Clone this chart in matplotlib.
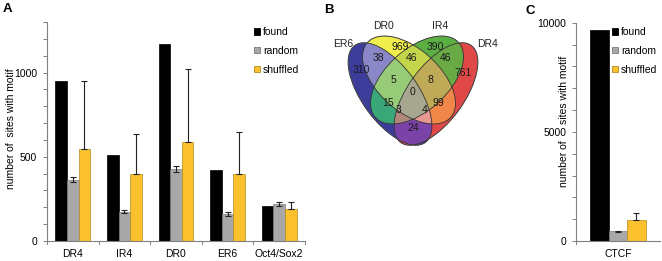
import numpy as np
import matplotlib
matplotlib.use("Agg")
import matplotlib.pyplot as plt
from matplotlib.patches import Ellipse, Patch
from matplotlib.ticker import FixedLocator, FuncFormatter

plt.rcParams['font.family'] = ['Liberation Sans', 'DejaVu Sans']

# ---- panel A data
motifs = ['DR4', 'IR4', 'DR0', 'ER6', 'Oct4/Sox2']
found = [950, 510, 1170, 420, 205]
random_ = [365, 175, 425, 160, 220]
random_err = [15, 10, 18, 10, 10]
shuffled = [545, 395, 590, 400, 190]
shuffled_err = [405, 240, 430, 250, 40]

# ---- panel C data
ctcf_found = [9650]
ctcf_random = [450]
ctcf_random_err = [20]
ctcf_shuffled = [950]
ctcf_shuffled_err = [350]

# ---- panel B (Venn) data: region -> count, sets ER6, DR0, IR4, DR4
venn_sets = ['ER6', 'DR0', 'IR4', 'DR4']
venn_counts = {
    'A': 310, 'B': 969, 'C': 390, 'D': 761,
    'AB': 38, 'BC': 46, 'CD': 46, 'AC': 15, 'BD': 99, 'AD': 24,
    'ABC': 5, 'BCD': 8, 'ACD': 3, 'ABD': 4, 'ABCD': 0,
}

W, H = 662, 261
fig = plt.figure(figsize=(W / 100, H / 100), dpi=100)

c_found, c_rand, c_shuf = '#000000', '#a8a8a8', '#fbc02d'
e_rand, e_shuf = '#7a7a7a', '#b08a20'


def fx(px):
    return px / W


def fy(py):
    return 1 - py / H


def style_axes(ax, ymax, step, labstep):
    for s in ['top', 'right']:
        ax.spines[s].set_visible(False)
    for s in ['left', 'bottom']:
        ax.spines[s].set_color('#808080')
        ax.spines[s].set_linewidth(0.8)
    ax.set_ylim(0, ymax)
    ax.yaxis.set_major_locator(FixedLocator(np.arange(0, ymax + 1, step)))
    ax.yaxis.set_major_formatter(FuncFormatter(
        lambda v, p: '%d' % v if v % labstep == 0 else ''))
    ax.tick_params(axis='y', length=3, width=0.7, color='#808080',
                   labelsize=7.5, pad=4)
    ax.tick_params(axis='x', length=0, labelsize=7.5, pad=6)


def bar_legend(ax, x, y):
    handles = [Patch(facecolor=c_found, edgecolor='#000000', lw=0.6),
               Patch(facecolor=c_rand, edgecolor=e_rand, lw=0.6),
               Patch(facecolor=c_shuf, edgecolor=e_shuf, lw=0.6)]
    ax.legend(handles, ['found', 'random', 'shuffled'], loc='upper left',
              bbox_to_anchor=(fx(x), fy(y)), bbox_transform=fig.transFigure,
              frameon=False, fontsize=7.5, handlelength=0.6, handleheight=0.6,
              handletextpad=0.25, labelspacing=0.85, borderpad=0, borderaxespad=0)


# ---------------- Panel A
axA = fig.add_axes([fx(47), fy(241), fx(305) - fx(47), fy(22) - fy(241)])
x = np.arange(len(motifs))
bw = 0.225
axA.bar(x - bw, found, bw, color=c_found, edgecolor='#000000', lw=0.5)
axA.bar(x, random_, bw, color=c_rand, edgecolor=e_rand, lw=0.5,
        yerr=[random_err, random_err], capsize=2.2,
        error_kw=dict(elinewidth=0.8, capthick=0.8, ecolor='#222222'))
axA.bar(x + bw, shuffled, bw, color=c_shuf, edgecolor=e_shuf, lw=0.5,
        yerr=[np.zeros(len(shuffled)), shuffled_err], capsize=2.2,
        error_kw=dict(elinewidth=0.8, capthick=0.8, ecolor='#222222'))
axA.set_xlim(-0.5, len(motifs) - 0.5)
axA.set_xticks(x)
axA.set_xticklabels(motifs)
for b in np.arange(-0.5, len(motifs), 1.0):
    axA.plot([b, b], [0, -0.012], transform=axA.get_xaxis_transform(),
             color='#808080', lw=0.7, clip_on=False)
style_axes(axA, 1300, 100, 500)
axA.set_ylabel('number of  sites with motif', fontsize=7.5)
axA.yaxis.set_label_coords(-0.122, 0.515)
bar_legend(axA, 254, 27)

# ---------------- Panel C
axC = fig.add_axes([fx(576), fy(241), fx(660) - fx(576), fy(22.7) - fy(241)])
bw2 = 0.22
axC.bar([-bw2], ctcf_found, bw2, color=c_found, edgecolor='#000000', lw=0.5)
axC.bar([0], ctcf_random, bw2, color=c_rand, edgecolor=e_rand, lw=0.5,
        yerr=[ctcf_random_err, ctcf_random_err], capsize=2.5,
        error_kw=dict(elinewidth=0.8, capthick=0.8, ecolor='#222222'))
axC.bar([bw2], ctcf_shuffled, bw2, color=c_shuf, edgecolor=e_shuf, lw=0.5,
        yerr=[[0], ctcf_shuffled_err], capsize=2.5,
        error_kw=dict(elinewidth=0.8, capthick=0.8, ecolor='#222222'))
axC.set_xlim(-0.5, 0.5)
axC.set_xticks([0])
axC.set_xticklabels(['CTCF'])
axC.plot([-0.5, -0.5], [0, -0.012], transform=axC.get_xaxis_transform(),
         color='#808080', lw=0.7, clip_on=False)
style_axes(axC, 10000, 1000, 5000)
bar_legend(axC, 612, 27)

# ---------------- Panel B (Venn) in pixel coordinates
axV = fig.add_axes([0, 0, 1, 1], facecolor='none')
axV.set_xlim(0, W)
axV.set_ylim(H, 0)
axV.axis('off')

# C y label: the "5000" tick label sits in the double space of the label
axV.text(564, 140, 'number of', rotation=90, ha='center', va='top', fontsize=7.5)
axV.text(564, 124, 'sites with motif', rotation=90, ha='center', va='bottom',
         fontsize=7.5)

# ellipse geometry: (cx, cy, semi-major, semi-minor, angle deg) in pixels
ellipses = [(390, 94, 60, 28, 54),
            (409, 80, 56, 31, 42),
            (417, 80, 56, 31, 138),
            (436, 94, 60, 28, 126)]
region_colors = {
    'A': '#3d3d9b', 'B': '#f0ee4c', 'C': '#5db043', 'D': '#e04848',
    'AB': '#8a88c8', 'BC': '#c6d64a', 'CD': '#6aab45', 'AC': '#3aa87a',
    'BD': '#f08848', 'AD': '#7c44a8', 'ABC': '#98cc78', 'BCD': '#c0aa58',
    'ACD': '#b08878', 'ABD': '#e89890', 'ABCD': '#a8a890',
}
gx0, gx1, gy0, gy1 = 340, 490, 25, 155
xs = np.linspace(gx0, gx1, 600)
ys = np.linspace(gy0, gy1, 520)
GX, GY = np.meshgrid(xs, ys)
masks = []
for cx, cy, a, b, ang in ellipses:
    t = np.deg2rad(ang)
    dx, dy = GX - cx, GY - cy
    u = dx * np.cos(t) + dy * np.sin(t)
    v = -dx * np.sin(t) + dy * np.cos(t)
    masks.append((u / a) ** 2 + (v / b) ** 2 <= 1)
img = np.zeros(GX.shape + (4,))
letters = 'ABCD'
for code, col in region_colors.items():
    m = np.ones(GX.shape, bool)
    for i, L in enumerate(letters):
        m &= masks[i] if L in code else ~masks[i]
    img[m] = matplotlib.colors.to_rgba(col)
axV.imshow(img, extent=(gx0, gx1, gy1, gy0), origin='upper',
           interpolation='bilinear', aspect='auto', zorder=1)
for cx, cy, a, b, ang in ellipses:
    axV.add_patch(Ellipse((cx, cy), 2 * a, 2 * b, angle=ang, fill=False,
                          ec='#333333', lw=0.6, zorder=2))
axV.set_xlim(0, W)
axV.set_ylim(H, 0)

label_pos = {
    'A': (361, 70), 'B': (400, 47), 'C': (435, 47), 'D': (463, 73),
    'AB': (378, 58), 'BC': (412, 58), 'CD': (445, 58), 'ABC': (393, 80),
    'BCD': (430, 80), 'ABCD': (412, 92), 'AC': (388, 103), 'BD': (438, 103),
    'ACD': (399, 110), 'ABD': (425, 110), 'AD': (413, 128),
}
for code, n in venn_counts.items():
    px, py = label_pos[code]
    axV.text(px, py, str(n), ha='center', va='center', fontsize=7.5,
             color='#1a1a1a', zorder=3)
set_pos = [(343, 44), (384, 26), (440, 26), (488, 44)]
for name, (px, py) in zip(venn_sets, set_pos):
    axV.text(px, py, name, ha='center', va='center', fontsize=7.5, color='#222222')

# panel letters
for letter, (px, py) in zip('ABC', [(7, 9), (329, 10), (530, 11)]):
    axV.text(px, py, letter, ha='center', va='center', fontsize=9.5,
             fontweight='bold')

fig.savefig('out.png', dpi=100)
